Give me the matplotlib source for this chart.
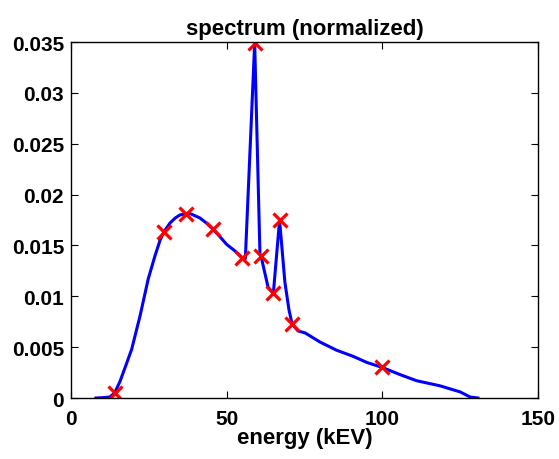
import numpy as np
import matplotlib.pyplot as plt

plt.rcParams['font.family'] = ['Liberation Sans', 'DejaVu Sans']
plt.rcParams['font.weight'] = 'bold'

# curve
energy = [8, 10, 12.5, 14, 15.7, 17.5, 19.5, 22.2, 24.8, 27, 28.6, 30, 31.8,
          33.5, 35, 37, 38.5, 41.4, 43.5, 45.6, 48, 50, 52.5, 55, 56, 59, 60.7,
          61, 63.3, 65, 67, 68.7, 70, 71, 72.9, 75.2, 80, 85.3, 90.6, 95, 100,
          105.7, 111, 118.5, 125, 128.2, 130.7]
spectrum = [0, 0.00003, 0.0001, 0.0005, 0.0016, 0.0031, 0.0048, 0.0081, 0.0117,
            0.0140, 0.0155, 0.0164, 0.0172, 0.0177, 0.0180, 0.0181, 0.0181,
            0.0177, 0.0172, 0.0166, 0.0158, 0.0151, 0.0145, 0.0138, 0.0137,
            0.0349, 0.0141, 0.0140, 0.0109, 0.0103, 0.0175, 0.0114, 0.0087,
            0.0073, 0.0066, 0.0064, 0.0055, 0.0047, 0.0041, 0.0035, 0.0030,
            0.0023, 0.0017, 0.0012, 0.0006, 0.0001, 0.0]

# marked points
mark_e = [14, 30, 37, 45.6, 55, 59, 61, 65, 67, 71, 100]
mark_s = [0.0005, 0.0163, 0.0181, 0.0166, 0.0138, 0.0349, 0.0140, 0.0103,
          0.0175, 0.0073, 0.0030]

fig = plt.figure(figsize=(5.59, 4.6), dpi=100)
ax = fig.add_axes([0.127, 0.1326, 0.8354, 0.7739])

ax.plot(energy, spectrum, color='#0000ff', linewidth=2.2)
ax.plot(mark_e, mark_s, 'x', color='#ff0000', markersize=10, markeredgewidth=2.3)

ax.set_xlim(0, 150)
ax.set_ylim(0, 0.035)
ax.set_xticks([0, 50, 100, 150])
ax.set_yticks([0, 0.005, 0.01, 0.015, 0.02, 0.025, 0.03, 0.035])
ax.set_yticklabels(['0', '0.005', '0.01', '0.015', '0.02', '0.025', '0.03', '0.035'])
ax.tick_params(direction='in', top=True, right=True, labelsize=15, length=5,
               width=0.8)
ax.tick_params(axis='x', pad=8)
ax.tick_params(axis='y', pad=5)
for sp in ax.spines.values():
    sp.set_linewidth(1.0)

ax.set_title('spectrum (normalized)', fontsize=16, fontweight='bold', pad=6)
ax.set_xlabel('energy (kEV)', fontsize=16, fontweight='bold', labelpad=-1)

fig.savefig('out.png', dpi=100)
